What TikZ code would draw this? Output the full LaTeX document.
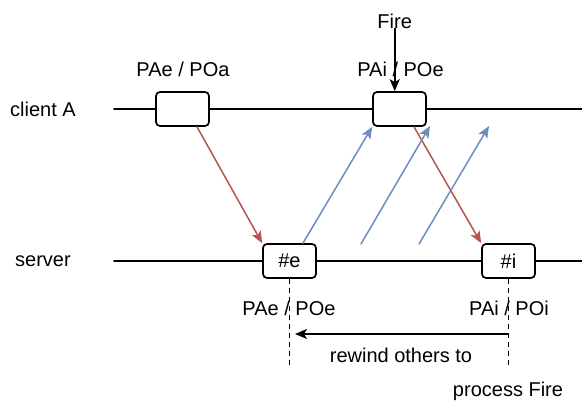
\documentclass[tikz,border=0pt]{standalone}
\usepackage[svgnames]{xcolor}
\usepackage{fontspec}
\setmainfont{Liberation Sans}
\usepackage{tikz}
\usetikzlibrary{arrows.meta}
\usetikzlibrary{positioning}
\usetikzlibrary{calc}
\definecolor{msgred}{HTML}{B85450}
\definecolor{msgblue}{HTML}{6C8EBF}

\begin{document}
\begin{tikzpicture}[line cap=round,line join=round,>={Stealth[length=12pt,width=10pt,inset=3pt]},x=1pt,y=-1pt,
  evt/.style={draw,line width=1.7pt,rounded corners=4pt,fill=white,minimum width=53pt,minimum height=34pt,inner sep=0pt},
  lbl/.style={font=\fontsize{20}{24}\selectfont,inner sep=0pt},
  tline/.style={line width=1.6pt},
  redmsg/.style={->,line width=1.5pt,color=msgred},
  bluemsg/.style={->,line width=1.5pt,color=msgblue}]
\useasboundingbox (0,0) rectangle (582,411);
% time lines
\coordinate (cl) at (114,109);
\coordinate (cr) at (582,109);
\coordinate (sl) at (114,261);
\coordinate (sr) at (582,261);
\node[evt] (a1) at (182.5,109) {};
\node[evt] (a2) at (399.5,109) {};
\node[evt,lbl] (se) at (289.5,261) {\#e};
\node[evt,lbl] (si) at (508.5,261) {\#i};
\draw [tline] (cl) -- (a1) -- (a2) -- (cr);
\draw [tline] (sl) -- (se) -- (si) -- (sr);
\node[lbl] (client) at (43,109) {client A};
\node[lbl] (server) at (43,261) {server};
% labels
\node[lbl] (l1) at (183,69) {PAe / POa};
\node[lbl] (l2) at (400.5,69) {PAi / POe};
\node[lbl] (fire) at (394.7,21) {Fire};
\draw [->,tline] (fire.south) -- (fire.south |- a2.north);
% messages
\draw [redmsg] ($(a1.south)+(14.5,0)$) -- (se.north west);
\draw [redmsg] ($(a2.south)+(14.5,0)$) -- (si.north west);
\draw [bluemsg] ($(se.north)+(13.5,0)$) -- (a2.south west);
\coordinate (b2s) at (361,244);
\coordinate (b2e) at (430,126);
\coordinate (b3s) at (419,244);
\coordinate (b3e) at (489,126);
\draw [bluemsg] (b2s) -- (b2e);
\draw [bluemsg] (b3s) -- (b3e);
% rewind
\coordinate (de) at (289.5,367);
\coordinate (di) at (508.5,367);
\draw [tline,line cap=butt,dash pattern=on 5pt off 4pt] (se.south) -- (de);
\draw [tline,line cap=butt,dash pattern=on 5pt off 4pt] (si.south) -- (di);
\node[lbl] (l3) at (289,308) {PAe / POe};
\node[lbl] (l4) at (509,308) {PAi / POi};
\coordinate (ri) at (508.5,334);
\coordinate (re) at (295,334);
\draw [->,tline] (ri) -- (re);
\node[lbl] (l5) at (401,355) {rewind others to};
\node[lbl] (l6) at (508,391) {process Fire};
\end{tikzpicture}
\end{document}
